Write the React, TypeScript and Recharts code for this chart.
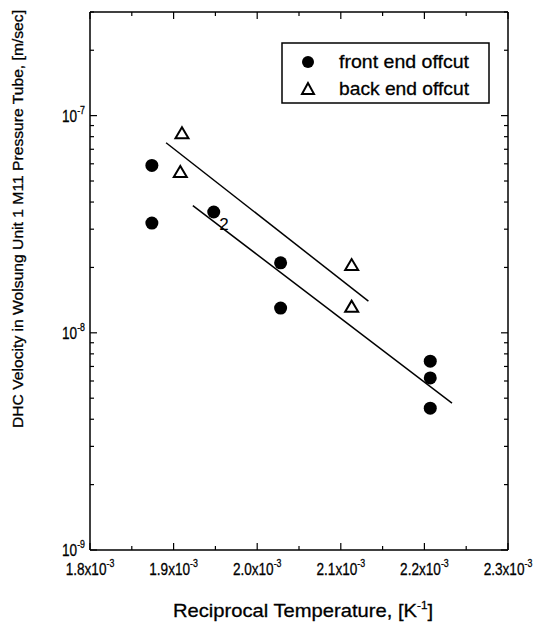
import React from 'react';
import { ScatterChart, Scatter, XAxis, YAxis, LabelList } from 'recharts';

// front end offcut (filled circles)
const frontX = [1.874e-3, 1.874e-3, 1.948e-3, 2.028e-3, 2.028e-3, 2.207e-3, 2.207e-3, 2.207e-3];
const frontY = [5.9e-8, 3.2e-8, 3.6e-8, 2.1e-8, 1.3e-8, 7.4e-9, 6.2e-9, 4.5e-9];
const frontCount = [1, 1, 2, 1, 1, 1, 1, 1];

// back end offcut (open triangles)
const backX = [1.91e-3, 1.908e-3, 2.113e-3, 2.113e-3];
const backY = [8.3e-8, 5.5e-8, 2.05e-8, 1.32e-8];

// fitted lines
const backFitX = [1.891e-3, 2.133e-3];
const backFitY = [7.5e-8, 1.4e-8];
const frontFitX = [1.923e-3, 2.233e-3];
const frontFitY = [3.85e-8, 4.75e-9];

const xTicks = [1.8e-3, 1.85e-3, 1.9e-3, 1.95e-3, 2.0e-3, 2.05e-3, 2.1e-3, 2.15e-3, 2.2e-3, 2.25e-3, 2.3e-3];
const yTicks = [
  1e-9, 2e-9, 3e-9, 4e-9, 5e-9, 6e-9, 7e-9, 8e-9, 9e-9,
  1e-8, 2e-8, 3e-8, 4e-8, 5e-8, 6e-8, 7e-8, 8e-8, 9e-8,
  1e-7, 2e-7, 3e-7,
];

const FONT = '"Liberation Sans", Arial, sans-serif';
const SQUEEZE = 0.8; // the scanned text is narrow and tall

const frontData = frontX.map((x, i) => ({ x, y: frontY[i], n: frontCount[i] }));
const backData = backX.map((x, i) => ({ x, y: backY[i] }));
const backFit = backFitX.map((x, i) => ({ x, y: backFitY[i] }));
const frontFit = frontFitX.map((x, i) => ({ x, y: frontFitY[i] }));

const isXMajor = (v: number) => Math.abs(v * 1e4 - Math.round(v * 1e4)) < 1e-6;
const isDecade = (v: number) => {
  const e = Math.log10(v);
  return Math.abs(e - Math.round(e)) < 1e-6;
};

const LeftTick = (props: any) => {
  const { x, y, payload } = props;
  const major = isDecade(payload.value);
  const exp = Math.round(Math.log10(payload.value));
  return (
    <g>
      <line x1={x} x2={x + (major ? 7 : 4)} y1={y} y2={y} stroke="#000" strokeWidth={1.2} />
      {major && (
        <g transform={`translate(${x - 5},${y + 6}) scale(${SQUEEZE},1)`}>
          <text x={0} y={0} textAnchor="end" fontSize={17} fontFamily={FONT} fill="#000" stroke="#000" strokeWidth={0.3}>
            10
            <tspan dy={-8} fontSize={11}>
              {exp}
            </tspan>
          </text>
        </g>
      )}
    </g>
  );
};

const RightTick = (props: any) => {
  const { x, y, payload } = props;
  const major = isDecade(payload.value);
  return <line x1={x} x2={x - (major ? 7 : 4)} y1={y} y2={y} stroke="#000" strokeWidth={1.2} />;
};

const BottomTick = (props: any) => {
  const { x, y, payload } = props;
  const major = isXMajor(payload.value);
  return (
    <g>
      <line x1={x} x2={x} y1={y} y2={y - (major ? 7 : 4)} stroke="#000" strokeWidth={1.2} />
      {major && (
        <g transform={`translate(${x},${y + 25}) scale(${SQUEEZE},1)`}>
          <text x={0} y={0} textAnchor="middle" fontSize={17} fontFamily={FONT} fill="#000" stroke="#000" strokeWidth={0.3}>
            {(payload.value * 1000).toFixed(1)}x10
            <tspan dy={-8} fontSize={11}>
              -3
            </tspan>
          </text>
        </g>
      )}
    </g>
  );
};

const TopTick = (props: any) => {
  const { x, y, payload } = props;
  const major = isXMajor(payload.value);
  return <line x1={x} x2={x} y1={y} y2={y + (major ? 7 : 4)} stroke="#000" strokeWidth={1.2} />;
};

const Circle = (props: any) => <circle cx={props.cx} cy={props.cy} r={6.5} fill="#000" />;

const Triangle = (props: any) => {
  const { cx, cy } = props;
  return (
    <polygon
      points={`${cx},${cy - 6} ${cx - 6.5},${cy + 5} ${cx + 6.5},${cy + 5}`}
      fill="#fff"
      stroke="#000"
      strokeWidth={2}
    />
  );
};

const NoDot = () => <g />;

const CountLabel = (props: any) => {
  const { x, y, value } = props;
  if (!value || value < 2) return null;
  return (
    <text x={x + 10} y={y + 23} fontSize={17} fontFamily={FONT} fill="#000">
      {value}
    </text>
  );
};

const YTitle = (props: any) => {
  const vb = props.viewBox;
  const cx = vb.x - 7;
  const cy = vb.y + 416;
  return (
    <text
      x={cx}
      y={cy}
      transform={`rotate(-90 ${cx} ${cy})`}
      textAnchor="start"
      fontSize={15}
      fontFamily={FONT}
      fill="#000"
      stroke="#000"
      strokeWidth={0.3}
      textLength={418}
      lengthAdjust="spacingAndGlyphs"
    >
      DHC Velocity in Wolsung Unit 1 M11 Pressure Tube, [m/sec]
    </text>
  );
};

const XTitle = (props: any) => {
  const vb = props.viewBox;
  const cx = vb.x + vb.width / 2 + 4;
  return (
    <text
      x={cx}
      y={vb.y + 67}
      textAnchor="middle"
      fontSize={19}
      fontFamily={FONT}
      fill="#000"
      stroke="#000"
      strokeWidth={0.3}
      textLength={260}
      lengthAdjust="spacingAndGlyphs"
    >
      Reciprocal Temperature, [K
      <tspan dy={-8} fontSize={11}>-1</tspan>
      <tspan dy={8}>]</tspan>
    </text>
  );
};

const LegendBox = () => (
  <svg style={{ position: 'absolute', left: 281, top: 42 }} width={209} height={62}>
    <rect x={1} y={1} width={207} height={60} fill="#fff" stroke="#000" strokeWidth={1.5} />
    <circle cx={27} cy={20} r={6} fill="#000" />
    <text x={58} y={26} fontSize={19} fontFamily={FONT} fill="#000" stroke="#000" strokeWidth={0.3} textLength={130} lengthAdjust="spacingAndGlyphs">
      front end offcut
    </text>
    <polygon points="27,41 21,52 33,52" fill="#fff" stroke="#000" strokeWidth={2} />
    <text x={58} y={53} fontSize={19} fontFamily={FONT} fill="#000" stroke="#000" strokeWidth={0.3} textLength={130} lengthAdjust="spacingAndGlyphs">
      back end offcut
    </text>
  </svg>
);

export default function App() {
  return (
    <div style={{ position: 'fixed', left: 0, top: 0, width: 536, height: 629, background: '#fff' }}>
      <ScatterChart width={536} height={629} margin={{ top: 8, right: 20, left: 30, bottom: 39 }}>
        <XAxis
          xAxisId="b"
          dataKey="x"
          type="number"
          domain={[1.8e-3, 2.3e-3]}
          ticks={xTicks}
          interval={0}
          allowDataOverflow
          height={40}
          tickSize={0}
          tickMargin={0}
          tickLine={false}
          tick={<BottomTick />}
          axisLine={{ stroke: '#000', strokeWidth: 1.5 }}
          label={{ content: <XTitle /> }}
        />
        <XAxis
          xAxisId="t"
          orientation="top"
          dataKey="x"
          type="number"
          domain={[1.8e-3, 2.3e-3]}
          ticks={xTicks}
          interval={0}
          allowDataOverflow
          height={4}
          tickSize={0}
          tickMargin={0}
          tickLine={false}
          tick={<TopTick />}
          axisLine={{ stroke: '#000', strokeWidth: 1.5 }}
        />
        <YAxis
          yAxisId="l"
          dataKey="y"
          type="number"
          scale="log"
          domain={[1e-9, 3e-7]}
          ticks={yTicks}
          interval={0}
          allowDataOverflow
          width={60}
          tickSize={0}
          tickMargin={0}
          tickLine={false}
          tick={<LeftTick />}
          axisLine={{ stroke: '#000', strokeWidth: 1.5 }}
          label={{ content: <YTitle /> }}
        />
        <YAxis
          yAxisId="r"
          orientation="right"
          dataKey="y"
          type="number"
          scale="log"
          domain={[1e-9, 3e-7]}
          ticks={yTicks}
          interval={0}
          allowDataOverflow
          width={8}
          tickSize={0}
          tickMargin={0}
          tickLine={false}
          tick={<RightTick />}
          axisLine={{ stroke: '#000', strokeWidth: 1.5 }}
        />
        <Scatter
          xAxisId="b"
          yAxisId="l"
          data={backFit}
          line={{ stroke: '#000', strokeWidth: 1.5 }}
          shape={<NoDot />}
          isAnimationActive={false}
        />
        <Scatter
          xAxisId="b"
          yAxisId="l"
          data={frontFit}
          line={{ stroke: '#000', strokeWidth: 1.5 }}
          shape={<NoDot />}
          isAnimationActive={false}
        />
        <Scatter xAxisId="b" yAxisId="l" data={frontData} shape={<Circle />} isAnimationActive={false}>
          <LabelList dataKey="n" content={<CountLabel />} />
        </Scatter>
        <Scatter xAxisId="b" yAxisId="l" data={backData} shape={<Triangle />} isAnimationActive={false} />
      </ScatterChart>
      <LegendBox />
    </div>
  );
}
